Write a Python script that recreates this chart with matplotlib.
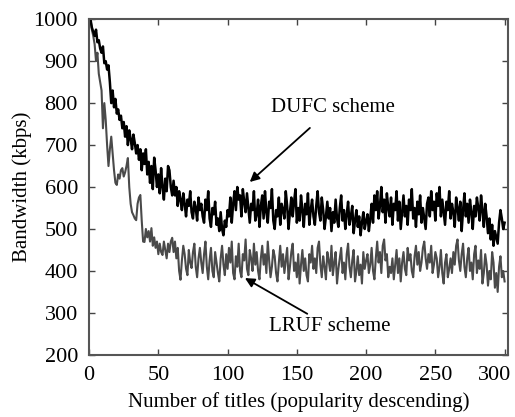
import numpy as np
import matplotlib
matplotlib.use('Agg')
import matplotlib.pyplot as plt
import matplotlib.transforms as mtransforms

# Полоса пропускания по номерам титулов (оценка по рисунку)
dufc = [
    1000, 980, 970, 960, 975, 945, 950, 930, 920, 935, 895, 900, 880, 890, 850, 800, 830, 790, 810, 775,
    785, 760, 770, 740, 755, 720, 745, 700, 735, 715, 690, 725, 705, 680, 700, 665, 690, 640, 680, 655,
    690, 630, 660, 610, 650, 595, 670, 640, 600, 630, 585, 645, 600, 570, 620, 590, 650, 640, 600, 580,
    615, 580, 600, 555, 590, 570, 545, 585, 560, 530, 570, 555, 590, 540, 525, 565, 550, 520, 575, 545,
    560, 530, 515, 570, 545, 590, 525, 505, 550, 535, 565, 510, 525, 495, 540, 500, 485, 520, 505, 545,
    530, 575, 515, 560, 590, 545, 600, 570, 580, 530, 595, 565, 540, 585, 550, 515, 560, 545, 590, 520,
    535, 570, 505, 555, 580, 525, 590, 540, 515, 565, 550, 595, 520, 500, 545, 530, 575, 510, 560, 545,
    525, 590, 555, 500, 540, 575, 530, 565, 595, 515, 550, 520, 580, 545, 505, 560, 535, 585, 510, 545,
    570, 530, 510, 555, 590, 540, 520, 575, 545, 500, 530, 565, 525, 550, 495, 540, 515, 570, 525, 505,
    550, 580, 520, 545, 500, 535, 565, 510, 530, 555, 490, 520, 545, 505, 530, 485, 515, 540, 500, 520,
    535, 495, 525, 560, 515, 580, 545, 590, 525, 555, 600, 540, 570, 515, 585, 550, 530, 575, 510, 560,
    545, 590, 520, 565, 500, 540, 580, 530, 555, 510, 570, 545, 595, 525, 550, 505, 565, 535, 580, 515,
    550, 525, 500, 560, 575, 530, 590, 545, 565, 520, 585, 555, 600, 530, 570, 540, 510, 565, 545, 590,
    525, 560, 540, 505, 575, 550, 520, 565, 495, 545, 585, 530, 560, 515, 570, 540, 500, 555, 530, 575,
    550, 520, 580, 545, 505, 560, 530, 490, 525, 475, 510, 460, 495, 480, 465, 515, 545, 525, 500, 515,
]
lruf = [
    1000, 975, 960, 940, 900, 920, 870, 850, 830, 740, 800, 760, 700, 650, 690, 720, 680, 640, 610, 605,
    630, 620, 640, 645, 625, 635, 650, 669, 600, 560, 540, 533, 525, 521, 560, 575, 581, 520, 470, 469,
    500, 480, 495, 470, 502, 460, 480, 455, 470, 440, 465, 445, 438, 470, 450, 430, 465, 445, 470, 479,
    445, 470, 430, 455, 400, 379, 425, 460, 440, 405, 390, 450, 420, 407, 445, 465, 410, 385, 430, 455,
    420, 395, 440, 470, 410, 380, 425, 455, 400, 385, 445, 420, 395, 375, 430, 460, 415, 390, 440, 405,
    455, 420, 470, 395, 380, 435, 410, 465, 400, 385, 440, 425, 475, 405, 390, 450, 430, 400, 465, 415,
    445, 400, 380, 430, 460, 415, 440, 395, 470, 425, 385, 410, 450, 435, 395, 375, 420, 460, 410, 440,
    395, 425, 455, 380, 410, 445, 465, 400, 420, 385, 440, 370, 415, 450, 400, 430, 390, 375, 440, 420,
    460, 405, 430, 395, 455, 470, 415, 385, 435, 410, 380, 445, 425, 400, 460, 390, 420, 445, 370, 405,
    430, 455, 395, 420, 380, 440, 465, 410, 385, 425, 450, 375, 400, 435, 390, 415, 370, 445, 405, 425,
    440, 395, 415, 455, 400, 380, 430, 470, 420, 445, 395, 460, 475, 425, 440, 385, 410, 395, 430, 380,
    415, 450, 395, 430, 375, 420, 445, 405, 390, 455, 425, 440, 400, 385, 435, 460, 415, 445, 400, 420,
    455, 470, 430, 405, 440, 420, 460, 395, 415, 445, 430, 385, 410, 450, 395, 370, 420, 440, 385, 405,
    430, 395, 445, 415, 460, 475, 425, 400, 440, 465, 410, 385, 430, 455, 400, 420, 380, 440, 460, 395,
    425, 405, 450, 370, 395, 440, 415, 365, 400, 380, 445, 420, 360, 395, 350, 410, 435, 385, 400, 375,
]
titles = np.arange(1, len(dufc) + 1)

xticks = [0, 50, 100, 150, 200, 250, 300]
yticks = [200, 300, 400, 500, 600, 700, 800, 900, 1000]

plt.rcParams['font.family'] = ['Liberation Serif', 'DejaVu Serif']

fig = plt.figure(figsize=(5.15, 4.17), dpi=100)
ax = fig.add_axes([0.173, 0.149, 0.813, 0.805])

ax.plot(titles, lruf, color='#4a4a4a', lw=1.5)
ax.plot(titles, dufc, color='black', lw=1.8)

ax.set_xlim(0, 302.3)
ax.set_ylim(200, 1000)
ax.set_xticks(xticks)
ax.set_yticks(yticks)
ax.tick_params(direction='in', top=True, right=True, length=4, width=1,
               color='#444444', pad=8, labelsize=16)
for s in ax.spines.values():
    s.set_color('#555555')
    s.set_linewidth(1.5)

# подпись 300 чуть левее, чтобы не обрезалась
lab = ax.get_xticklabels()[-1]
lab.set_transform(lab.get_transform() + mtransforms.ScaledTranslation(-7 / 72, 0, fig.dpi_scale_trans))

ax.set_xlabel('Number of titles (popularity descending)', fontsize=15, labelpad=5)
ax.set_ylabel('Bandwidth (kbps)', fontsize=15, labelpad=1)

ax.annotate('DUFC scheme', xy=(116, 612), xytext=(176, 790),
            ha='center', va='center', fontsize=15,
            arrowprops=dict(arrowstyle='-|>', color='black', lw=1.3,
                            mutation_scale=14, shrinkA=9, shrinkB=0))
ax.annotate('LRUF scheme', xy=(112.5, 383), xytext=(130, 267),
            ha='left', va='center', fontsize=15,
            arrowprops=dict(arrowstyle='-|>', color='black', lw=1.3,
                            mutation_scale=14, shrinkA=1, shrinkB=0))

fig.savefig('out.png', dpi=100)
